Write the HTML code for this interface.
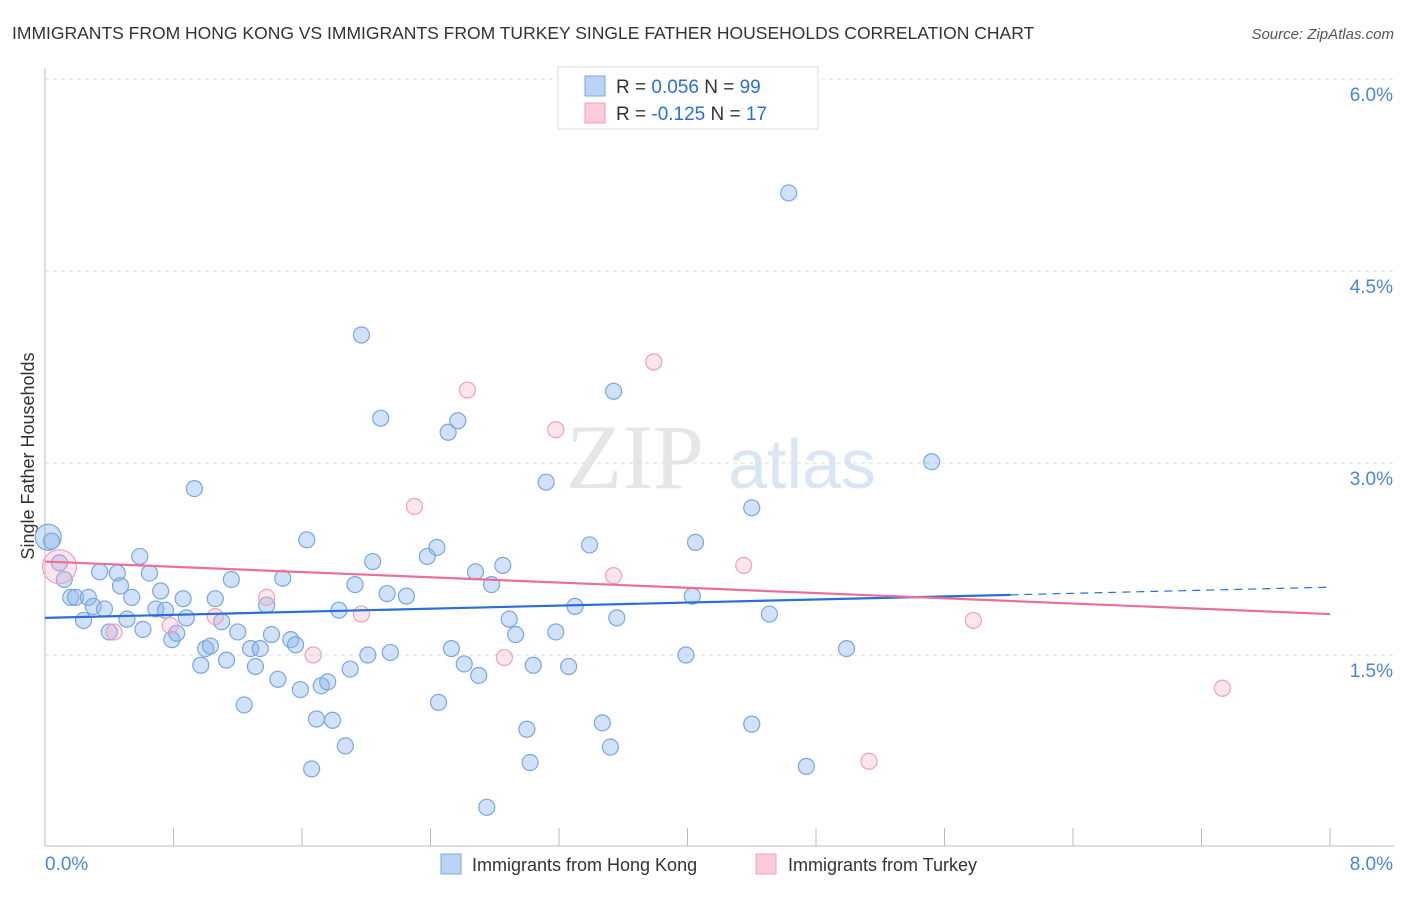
<!DOCTYPE html>
<html><head><meta charset="utf-8"><style>
body{margin:0;background:#fff;font-family:"Liberation Sans",sans-serif;}
svg text{font-family:"Liberation Sans",sans-serif;}
</style></head><body>
<svg id="chart" width="1406" height="892" xmlns="http://www.w3.org/2000/svg">
<text x="12" y="39" font-size="17.5" fill="#333">IMMIGRANTS FROM HONG KONG VS IMMIGRANTS FROM TURKEY SINGLE FATHER HOUSEHOLDS CORRELATION CHART</text>
<text x="1394" y="39" font-size="15" fill="#555" text-anchor="end" font-style="italic">Source: ZipAtlas.com</text>
<g>
<text x="635" y="488" font-size="92" fill="#e6e6e6" text-anchor="middle" font-family="Liberation Serif" style="font-family:'Liberation Serif',serif">ZIP</text>
<text x="802" y="488" font-size="70" fill="#dbe6f5" text-anchor="middle">atlas</text>
</g>
<text transform="translate(34,456) rotate(-90)" font-size="18" fill="#333" text-anchor="middle">Single Father Households</text>
<g id="grid"></g><g id="axes"></g><g id="marks"></g>
<g>
<rect x="558" y="67" width="260" height="62" fill="#fff" stroke="#ddd"/>
<rect x="585" y="76" width="20" height="20" fill="#b9d3f5" stroke="#7aa7e0"/>
<rect x="585" y="103" width="20" height="20" fill="#fbcbd9" stroke="#f0a0bb"/>
<text x="616" y="93" font-size="19" fill="#333">R = <tspan fill="#2a6fd6">0.056</tspan>   N = <tspan fill="#2a6fd6">99</tspan></text>
<text x="616" y="120" font-size="19" fill="#333">R = <tspan fill="#2a6fd6">-0.125</tspan>   N =  <tspan fill="#2a6fd6">17</tspan></text>
</g>
<g>
<rect x="441" y="854" width="20" height="20" fill="#b9d3f5" stroke="#7aa7e0"/>
<text x="472" y="871" font-size="18" fill="#333">Immigrants from Hong Kong</text>
<rect x="756" y="854" width="20" height="20" fill="#fbcbd9" stroke="#f0a0bb"/>
<text x="788" y="871" font-size="18" fill="#333">Immigrants from Turkey</text>
</g>
</svg>
<script>
const yTicks=[1.5,3.0,4.5,6.0];
const yTickLabels=["1.5%","3.0%","4.5%","6.0%"];
const xTickCount=10;
const blueX=[0.02,0.04,0.09,0.12,0.16,0.19,0.24,0.27,0.30,0.34,0.37,0.40,0.45,0.47,0.51,0.54,0.59,0.61,0.65,0.69,0.72,0.75,0.79,0.82,0.86,0.88,0.93,0.97,1.00,1.03,1.06,1.10,1.13,1.16,1.20,1.24,1.28,1.31,1.34,1.38,1.41,1.45,1.48,1.53,1.56,1.59,1.63,1.66,1.69,1.72,1.76,1.79,1.83,1.87,1.90,1.93,1.97,2.01,2.04,2.09,2.13,2.15,2.25,2.38,2.44,2.45,2.51,2.53,2.57,2.61,2.68,2.70,2.75,2.78,2.85,2.89,2.93,3.00,3.02,3.04,3.12,3.18,3.26,3.30,3.39,3.47,3.52,3.54,3.56,3.99,4.03,4.05,4.40,4.40,4.51,4.63,4.74,4.99,5.52];
const blueY=[2.42,2.39,2.22,2.09,1.95,1.95,1.77,1.95,1.88,2.15,1.86,1.68,2.14,2.04,1.78,1.95,2.27,1.70,2.14,1.86,2.00,1.85,1.62,1.67,1.94,1.79,2.80,1.42,1.55,1.57,1.94,1.76,1.46,2.09,1.68,1.11,1.55,1.41,1.55,1.89,1.66,1.31,2.10,1.62,1.58,1.23,2.40,0.61,1.00,1.26,1.29,0.99,1.85,0.79,1.39,2.05,4.00,1.50,2.23,3.35,1.98,1.52,1.96,2.27,2.34,1.13,3.24,1.55,3.33,1.43,2.15,1.34,0.31,2.05,2.20,1.78,1.66,0.92,0.66,1.42,2.85,1.68,1.41,1.88,2.36,0.97,0.78,3.56,1.79,1.50,1.96,2.38,2.65,0.96,1.82,5.11,0.63,1.55,3.01];
const pinkX=[0.09,0.43,0.78,1.06,1.38,1.67,1.97,2.30,2.63,2.86,3.18,3.54,3.79,4.35,5.13,5.78,7.33];
const pinkY=[2.19,1.68,1.73,1.80,1.95,1.50,1.82,2.66,3.57,1.48,3.26,2.12,3.79,2.20,0.67,1.77,1.24];
const blueTrend=[1.79,1.97,2.03]; // at x=0, 6.01, 8
const blueTrendX=[0,6.01,8];
const pinkTrend=[2.23,1.82];
const pinkTrendX=[0,8];
const ns="http://www.w3.org/2000/svg";
const X=v=>45+v*1285/8, Y=v=>847-v*128;
function mk(tag,attrs,parent){const e=document.createElementNS(ns,tag);for(const k in attrs)e.setAttribute(k,attrs[k]);document.getElementById(parent).appendChild(e);return e;}
yTicks.forEach((t,i)=>{
 const g=mk('line',{x1:45,x2:1394,y1:Y(t),y2:Y(t),stroke:'#ddd','stroke-dasharray':'4,4'},'grid');
 
 
 const l=mk('text',{x:1393,y:Y(t)+22,'font-size':19,fill:'#4a86d8','text-anchor':'end'},'axes');
 l.textContent=yTickLabels[i];
 
 
});
const ax=mk('line',{x1:45,x2:45,y1:68,y2:846,stroke:'#bbb'},'axes');


const bx=mk('line',{x1:45,x2:1394,y1:846,y2:846,stroke:'#bbb'},'axes');


for(let i=1;i<=xTickCount;i++){const t=mk('line',{x1:X(i*0.8),x2:X(i*0.8),y1:828,y2:846,stroke:'#bbb'},'axes');
 
 }
[["0.0%",45,'start'],["8.0%",1393,'end']].forEach(a=>{const t=mk('text',{x:a[1],y:870,'font-size':19,fill:'#4a86d8','text-anchor':a[2]},'axes');t.textContent=a[0];
 
 });
blueX.forEach((x,i)=>{const c=mk('circle',{cx:X(x),cy:Y(blueY[i]),r:i==0?13:8,fill:'rgba(140,180,235,0.4)',stroke:'#7aa7e0','stroke-width':1.2},'marks');
 
 });
pinkX.forEach((x,i)=>{const c=mk('circle',{cx:X(x),cy:Y(pinkY[i]),r:i==0?17:8,fill:'rgba(245,170,195,0.3)',stroke:'#f0a0bb','stroke-width':1.2},'marks');
 
 });
const b1=mk('line',{x1:X(blueTrendX[0]),y1:Y(blueTrend[0]),x2:X(blueTrendX[1]),y2:Y(blueTrend[1]),stroke:'#2a6fd6','stroke-width':2.2},'marks');


const b2=mk('line',{x1:X(blueTrendX[1]),y1:Y(blueTrend[1]),x2:X(blueTrendX[2]),y2:Y(blueTrend[2]),stroke:'#2a6fd6','stroke-width':1.2,'stroke-dasharray':'8,6'},'marks');


const p1=mk('line',{x1:X(pinkTrendX[0]),y1:Y(pinkTrend[0]),x2:X(pinkTrendX[1]),y2:Y(pinkTrend[1]),stroke:'#e8709a','stroke-width':2.2},'marks');


</script>
</body></html>
